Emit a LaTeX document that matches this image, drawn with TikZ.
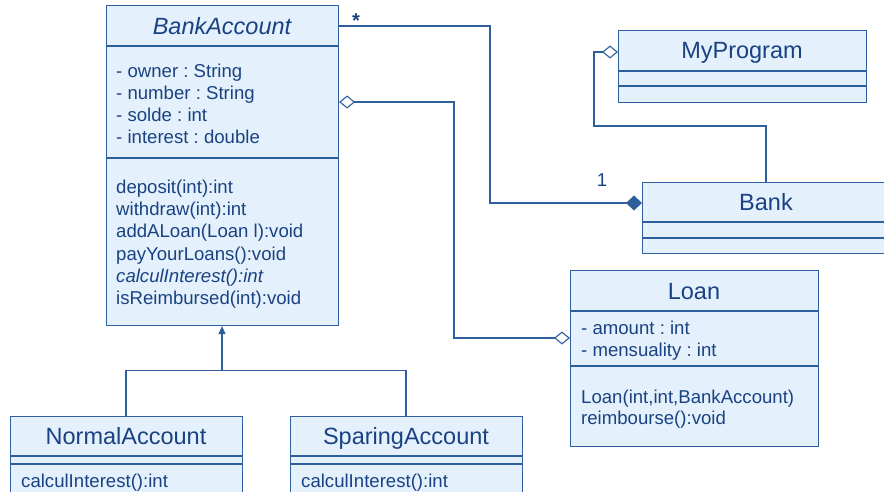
\documentclass[tikz,border=0pt]{standalone}
\usepackage{fontspec}
\setmainfont{Liberation Sans}
\usetikzlibrary{arrows.meta}
\definecolor{fillc}{HTML}{E4F1FC}
\definecolor{linec}{HTML}{2E5E9C}
\definecolor{textc}{HTML}{1A4282}
\frenchspacing
\tikzset{
  cls/.style={draw=linec, fill=fillc, line width=1.1pt, rectangle, inner sep=0pt, anchor=north west},
  sep/.style={draw=linec, line width=1.1pt},
  ttl/.style={text=textc, font=\fontsize{23.5}{26}\selectfont, anchor=base, inner sep=0pt},
  txt/.style={text=textc, font=\fontsize{18.6}{22}\selectfont, anchor=base west, inner sep=0pt},
  conn/.style={draw=linec, line width=1.1pt},
  odia/.tip={Diamond[length=16pt,width=13pt,open,fill=white]},
  fdia/.tip={Diamond[length=16pt,width=15pt]},
  gtip/.tip={Triangle[length=8pt,width=7pt]},
}
\begin{document}
\begin{tikzpicture}[x=1pt,y=-1pt]
\clip (0,0) rectangle (884,492);
\fill[white] (0,0) rectangle (884,492);

% ---------- BankAccount ----------
\node[cls, minimum width=232pt, minimum height=320pt] (ba) at (106,5) {};
\draw[sep] (ba.west |- 0,46) -- (ba.east |- 0,46);
\draw[sep] (ba.west |- 0,158) -- (ba.east |- 0,158);
\node[ttl] (ba-t) at (222,35) {\itshape BankAccount};
\foreach \t [count=\i] in {- owner : String, - number : String, - solde : int, - interest : double}
  \node[txt] (ba-a\i) at (116,{77.3+22*(\i-1)}) {\t};
\foreach \t [count=\i] in {deposit(int):int, withdraw(int):int, addALoan(Loan l):void, payYourLoans():void, \itshape calculInterest():int, isReimbursed(int):void}
  \node[txt] (ba-m\i) at (116,{193.3+22.3*(\i-1)}) {\t};

% ---------- MyProgram ----------
\node[cls, minimum width=248pt, minimum height=72pt] (mp) at (618,30) {};
\draw[sep] (mp.west |- 0,71) -- (mp.east |- 0,71);
\draw[sep] (mp.west |- 0,86) -- (mp.east |- 0,86);
\node[ttl] (mp-t) at (742,59) {MyProgram};

% ---------- Bank ----------
\node[cls, minimum width=248pt, minimum height=71pt] (bank) at (642,182) {};
\draw[sep] (bank.west |- 0,222) -- (bank.east |- 0,222);
\draw[sep] (bank.west |- 0,238) -- (bank.east |- 0,238);
\node[ttl] (bank-t) at (766,211) {Bank};

% ---------- Loan ----------
\node[cls, minimum width=248pt, minimum height=176pt] (loan) at (570,270) {};
\draw[sep] (loan.west |- 0,311) -- (loan.east |- 0,311);
\draw[sep] (loan.west |- 0,366) -- (loan.east |- 0,366);
\node[ttl] (loan-t) at (694,299) {Loan};
\node[txt] (loan-a1) at (581,334) {- amount : int};
\node[txt] (loan-a2) at (581,356) {- mensuality : int};
\node[txt] (loan-m1) at (581,403) {Loan(int,int,BankAccount)};
\node[txt] (loan-m2) at (581,424) {reimbourse():void};

% ---------- NormalAccount ----------
\node[cls, minimum width=232pt, minimum height=100pt] (na) at (10,415.5) {};
\draw[sep] (na.west |- 0,456) -- (na.east |- 0,456);
\draw[sep] (na.west |- 0,464) -- (na.east |- 0,464);
\node[ttl] (na-t) at (126,444) {NormalAccount};
\node[txt] (na-m1) at (21,487) {calculInterest():int};

% ---------- SparingAccount ----------
\node[cls, minimum width=232pt, minimum height=100pt] (sa) at (290,415.5) {};
\draw[sep] (sa.west |- 0,456) -- (sa.east |- 0,456);
\draw[sep] (sa.west |- 0,464) -- (sa.east |- 0,464);
\node[ttl] (sa-t) at (406,444) {SparingAccount};
\node[txt] (sa-m1) at (301,487) {calculInterest():int};

% ---------- connectors ----------
% BankAccount * --- 1 Bank (composition)
\coordinate (k1) at (490,26);
\coordinate (k2) at (490,203);
\draw[conn, -{fdia}] (ba.east |- k1) -- (k1) -- (k2) -- (bank.west |- k2);
\node[text=textc, font=\fontsize{20}{22}\selectfont\bfseries, anchor=base, inner sep=0pt] (mul-star) at (356,28) {*};
\node[txt, anchor=base] (mul-one) at (602,186) {1};

% BankAccount <>---<> Loan
\coordinate (l1) at (454,102);
\coordinate (l2) at (454,338);
\draw[conn, {odia}-{odia}] (ba.east |- l1) -- (l1) -- (l2) -- (loan.west |- l2);

% Bank ---<> MyProgram
\coordinate (m1) at (766,126);
\coordinate (m2) at (594,126);
\coordinate (m3) at (594,52);
\draw[conn, -{odia}] (bank.north -| m1) -- (m1) -- (m2) -- (m3) -- (mp.west |- m3);

% generalization
\coordinate (g0) at (222,370.5);
\coordinate (gl) at (126,370.5);
\coordinate (gr) at (406,370.5);
\draw[conn, -{gtip}] (g0) -- (ba.south -| g0);
\draw[conn] (na.north -| gl) -- (gl) -- (gr) -- (sa.north -| gr);
\end{tikzpicture}
\end{document}
